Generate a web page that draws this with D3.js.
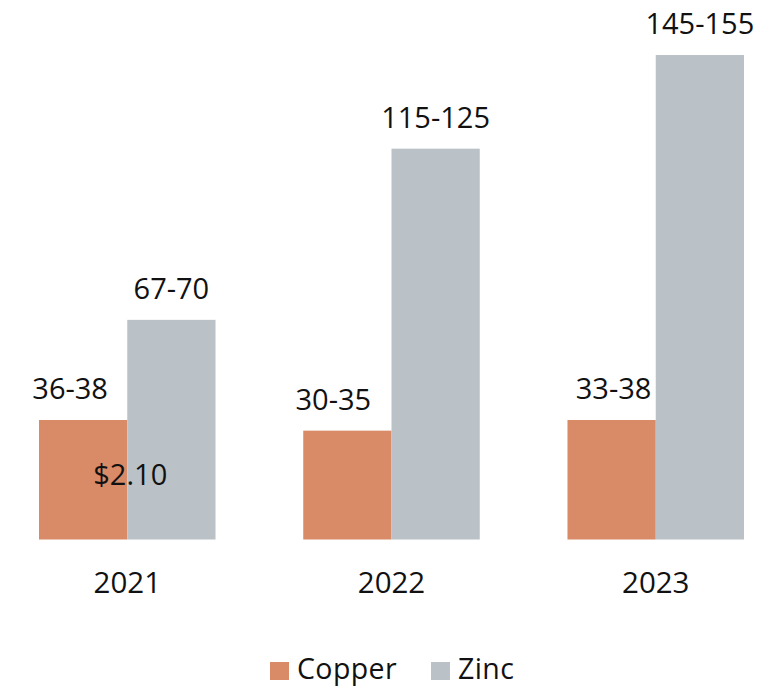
<!DOCTYPE html>
<html>
<head>
	<meta charset="utf-8">
	<title> copper zinc </title>
	<script src="https://d3js.org/d3.v7.min.js"></script>
	<style>
		body { margin: 0; background: #fff; }
		text { font-family: "Open Sans", "Noto Sans", sans-serif; fill: #111; }
	</style>
</head>
<body>
	<svg width="779" height="688"></svg>
	<script type="text/javascript">
		// data
		let years = ["2021", "2022", "2023"];
		let series = ["Copper", "Zinc"];
		let copperValues = [37, 33.7, 37];
		let zincValues = [68, 121, 150];
		let copperLabels = ["36-38", "30-35", "33-38"];
		let zincLabels = ["67-70", "115-125", "145-155"];
		let colorSet = ["#d98a67", "#bac2c8"];

		let svg = d3.select("svg");
		const baseline = 539.5;

		let x = d3.scaleBand().domain(years).range([39, 744]).paddingInner(0.332).paddingOuter(0);
		let xs = d3.scaleBand().domain(series).range([0, x.bandwidth()]);
		let y = d3.scaleLinear().domain([0, 150]).range([baseline, 55]);

		let rows = years.map((yr, i) => ({
			year: yr,
			vals: [
				{ s: "Copper", v: copperValues[i], label: copperLabels[i] },
				{ s: "Zinc", v: zincValues[i], label: zincLabels[i] }
			]
		}));

		// small nudges for the copper labels, as placed in the original
		let copperDx = [-13, -14, 2];

		let groups = svg.selectAll("g.year").data(rows).join("g")
			.attr("class", "year")
			.attr("transform", d => "translate(" + x(d.year) + ",0)");

		groups.selectAll("rect").data(d => d.vals).join("rect")
			.attr("x", d => xs(d.s))
			.attr("y", d => y(d.v))
			.attr("width", xs.bandwidth())
			.attr("height", d => baseline - y(d.v))
			.attr("fill", (d, i) => colorSet[i]);

		groups.selectAll("text.val").data((d, gi) => d.vals.map(v => Object.assign({ gi: gi }, v))).join("text")
			.attr("class", "val")
			.attr("x", d => xs(d.s) + xs.bandwidth() / 2 + (d.s === "Copper" ? copperDx[d.gi] : 0))
			.attr("y", d => y(d.v) - 21)
			.attr("text-anchor", "middle")
			.style("font-size", "29px")
			.text(d => d.label);

		// year axis (no line, labels only)
		let xAxis = d3.axisBottom(x).tickSize(0).tickPadding(0);
		let axisG = svg.append("g").attr("transform", "translate(0," + baseline + ")").call(xAxis);
		axisG.select(".domain").remove();
		axisG.selectAll("text")
			.attr("y", 53)
			.attr("dy", null)
			.style("font-size", "29.5px")
			.style("font-family", "'Open Sans', 'Noto Sans', sans-serif")
			.attr("fill", "#111");

		// stray label sitting on the 2021 bars
		svg.append("text")
			.attr("x", x("2021") + xs.bandwidth() + 3)
			.attr("y", 485)
			.attr("text-anchor", "middle")
			.style("font-size", "29px")
			.text("$2.10");

		// legend
		let legendX = [270, 431];
		let legend = svg.selectAll("g.legend").data(series).join("g")
			.attr("class", "legend")
			.attr("transform", (d, i) => "translate(" + legendX[i] + ",662)");
		legend.append("rect")
			.attr("width", 19).attr("height", 18)
			.attr("fill", (d, i) => colorSet[i]);
		legend.append("text")
			.attr("x", 27).attr("y", 17)
			.style("font-size", "28.5px")
			.style("letter-spacing", "0.4px")
			.text(d => d);
	</script>
</body>
</html>
